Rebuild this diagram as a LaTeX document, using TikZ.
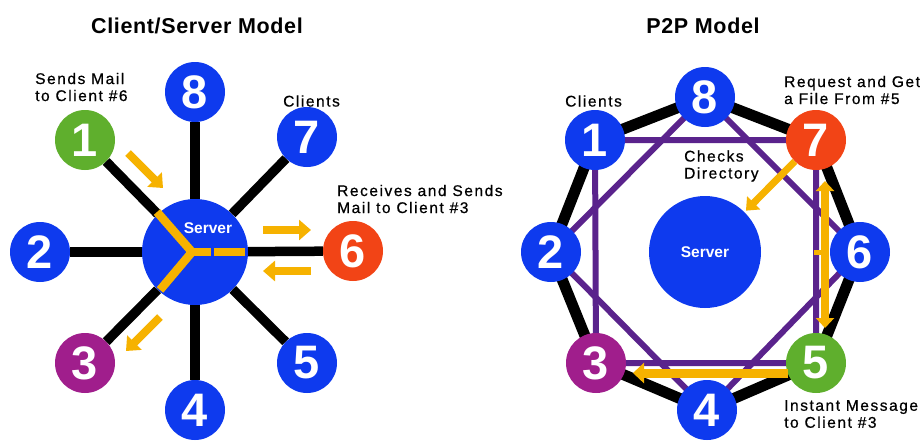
\documentclass[tikz,border=0pt]{standalone}
\usepackage{fontspec}
\setmainfont{Liberation Sans}
\newfontfamily\labelfont[LetterSpace=10,FakeBold=0.6]{Liberation Sans}
\newfontfamily\titlefont[LetterSpace=3]{Liberation Sans}
\usetikzlibrary{arrows.meta,calc}

\definecolor{nblue}{RGB}{14,58,238}
\definecolor{ngreen}{RGB}{95,175,45}
\definecolor{nred}{RGB}{242,68,22}
\definecolor{nmagenta}{RGB}{160,30,140}
\definecolor{lpurple}{RGB}{90,35,140}
\definecolor{aorange}{RGB}{246,178,0}

\tikzset{
  peer/.style={circle, minimum size=60pt, inner sep=0pt, text=white,
    font=\fontsize{47}{47}\selectfont\bfseries},
  hub/.style={circle, fill=nblue, inner sep=0pt, text=white,
    font=\fontsize{15.5}{16}\selectfont\bfseries},
  title/.style={font=\titlefont\fontsize{21.5}{22}\selectfont\bfseries, inner sep=0pt},
  note/.style={font=\labelfont\fontsize{15.5}{17}\selectfont, align=left, inner sep=0pt, anchor=west},
  spoke/.style={line width=9.5pt, black},
  ring/.style={line width=11pt, black},
  mesh/.style={line width=6pt, lpurple},
  flow/.style={line width=8.5pt, aorange},
  flowarrow/.style={line width=8pt, aorange, -{Triangle[length=12pt,width=20pt]}},
}

\begin{document}
\begin{tikzpicture}[x=1pt, y=-1pt]
\useasboundingbox (0,0) rectangle (924,440);

% ---------------- Client/Server model ----------------
\node[title] (tcs) at (197,26) {Client/Server Model};

\node[hub, minimum size=106pt] (Lsrv) at (195,252) {};
\node[peer, fill=ngreen]   (L1) at (85,140)  {1};
\node[peer, fill=nblue]    (L2) at (40,252)  {2};
\node[peer, fill=nmagenta] (L3) at (85,363)  {3};
\node[peer, fill=nblue]    (L4) at (195,410) {4};
\node[peer, fill=nblue]    (L5) at (307,363) {5};
\node[peer, fill=nred]     (L6) at (353,251) {6};
\node[peer, fill=nblue]    (L7) at (307,137) {7};
\node[peer, fill=nblue]    (L8) at (195,92)  {8};

% spokes from every client to the server
\foreach \c in {L1,L2,L3,L4,L5,L6,L7,L8}
  \draw[spoke] (\c) -- (Lsrv);

% mail route through the server
\coordinate (yin)  at (157,212);
\coordinate (yhub) at (192,252);
\coordinate (yout) at (160,290);
\coordinate (yend) at (245,252);
\draw[flow, line join=miter] (yin) -- (yhub) -- (yout);
\draw[flow] (yhub) -- (211,252);
\draw[flow] (214,252) -- (yend);
\node[hub, fill=none] (srvtxt) at (208,228) {Server};

% mail movement arrows
\coordinate (a1s) at (128,153); \coordinate (a1e) at (163,188);
\coordinate (a6s) at (263,230); \coordinate (a6e) at (311,230);
\coordinate (b6s) at (311,271); \coordinate (b6e) at (263,271);
\coordinate (a3s) at (160,317); \coordinate (a3e) at (126,351);
\draw[flowarrow] (a1s) -- (a1e);
\draw[flowarrow] (a6s) -- (a6e);
\draw[flowarrow] (b6s) -- (b6e);
\draw[flowarrow] (a3s) -- (a3e);

\node[note] (n1) at (35,87) {Sends Mail\\to Client \#6};
\node[note] (n7) at (283,101) {Clients};
\node[note] (n6) at (337,199) {Receives and Sends\\Mail to Client \#3};

% ---------------- P2P model ----------------
\node[title] (tp2p) at (703,26) {P2P Model};

\node[hub, minimum size=112pt] (Rsrv) at (705,252) {Server};
\coordinate (R1c) at (595,140);
\coordinate (R2c) at (551,252);
\coordinate (R3c) at (596,363);
\coordinate (R4c) at (707,410);
\coordinate (R5c) at (816,363);
\coordinate (R6c) at (860,252);
\coordinate (R7c) at (816,140);
\coordinate (R8c) at (705,97);

% outer ring
\draw[ring, line join=round] (R1c) -- (R8c) -- (R7c) -- (R6c) -- (R5c) -- (R4c) -- (R3c) -- (R2c) -- cycle;
% inner peer links
\draw[mesh] (R1c) -- (R7c) -- (R5c) -- (R3c) -- cycle;
\draw[mesh] (R8c) -- (R6c) -- (R4c) -- (R2c) -- cycle;

\node[peer, fill=nblue]    (R1) at (R1c) {1};
\node[peer, fill=nblue]    (R2) at (R2c) {2};
\node[peer, fill=nmagenta] (R3) at (R3c) {3};
\node[peer, fill=nblue]    (R4) at (R4c) {4};
\node[peer, fill=ngreen]   (R5) at (R5c) {5};
\node[peer, fill=nblue]    (R6) at (R6c) {6};
\node[peer, fill=nred]     (R7) at (R7c) {7};
\node[peer, fill=nblue]    (R8) at (R8c) {8};

% lookup, file transfer and message arrows
\draw[flowarrow, line width=7pt, -{Triangle[length=11pt,width=18pt]}, shorten >=2pt] (R7) -- (Rsrv);
\coordinate (ftop) at (825,181);
\coordinate (fbot) at (825,328);
\draw[line width=8pt, aorange, {Triangle[length=10pt,width=18pt]}-{Triangle[length=10pt,width=18pt]}] (ftop) -- (fbot);
\draw[line width=5pt, aorange] (814,252) -- (822,252);
\coordinate (ms) at (788,373);
\coordinate (me) at (633,373);
\draw[line width=9pt, aorange, -{Triangle[length=11pt,width=20pt]}] (ms) -- (me);

\node[note] (m1) at (565,101) {Clients};
\node[note] (m7) at (784,90) {Request and Get\\a File From \#5};
\node[note] (mc) at (684,166) {Checks\\Directory};
\node[note] (m5) at (784,414) {Instant Message\\to Client \#3};
\end{tikzpicture}
\end{document}
